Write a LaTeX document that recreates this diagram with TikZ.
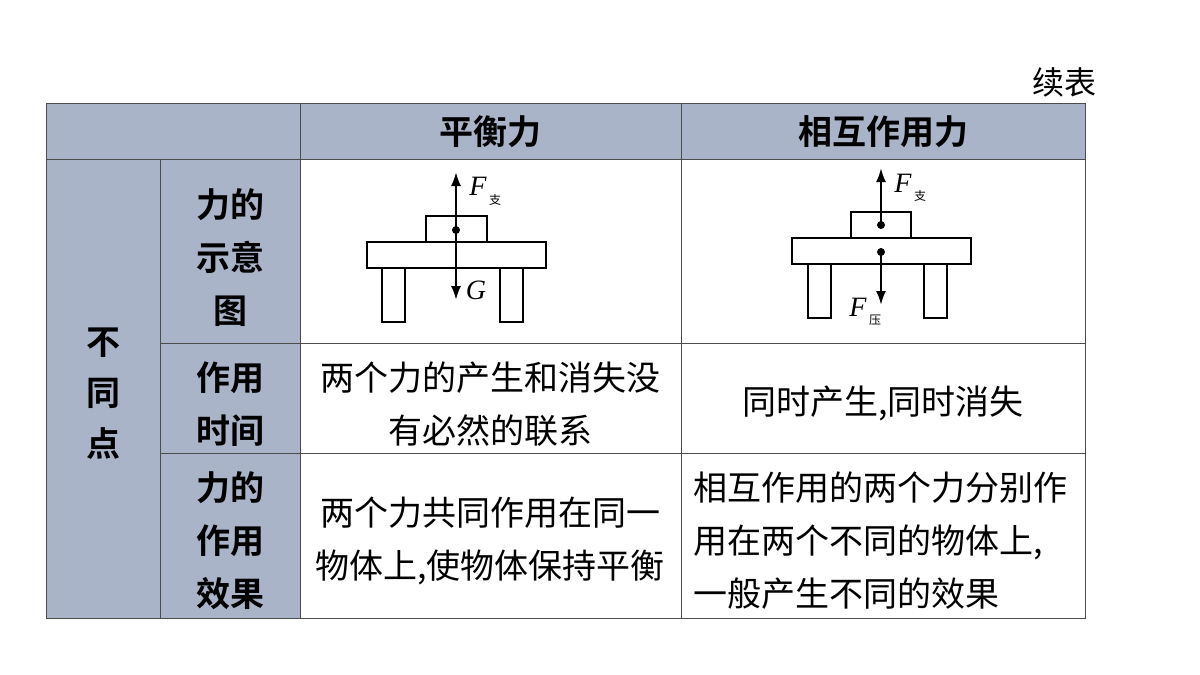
\documentclass[tikz,border=0pt]{standalone}
\usepackage{fontspec}
\newfontfamily\cjk{Noto Sans CJK SC}
\newfontfamily\cjkb{Noto Sans CJK SC Bold}
\setmainfont{Liberation Serif}
\definecolor{hdr}{RGB}{170,180,200}
\usetikzlibrary{arrows.meta}
\begin{document}
\begin{tikzpicture}[x=1pt,y=-1pt,
  ln/.style={draw=black!70,line width=1pt},
  bd/.style={font=\cjkb\fontsize{34}{53}\selectfont,align=center},
  tx/.style={font=\cjk\fontsize{34}{53}\selectfont,align=center},
  fig/.style={draw,line width=2.2pt,fill=white},
  fa/.style={line width=2.2pt,-{Latex[length=14pt,width=10pt]}},
  lab/.style={font=\itshape\fontsize{28}{28}\selectfont,inner sep=0},
  sub/.style={font=\cjk\fontsize{12}{12}\selectfont,inner sep=0}]
\useasboundingbox (0,0) rectangle (1200,675);
\fill[hdr] (46,103) rectangle (1085,159);
\fill[hdr] (46,159) rectangle (300,618);
\draw[ln] (46,103) rectangle (1085,618);
\draw[ln] (46,159) -- (1085,159);
\draw[ln] (160,343) -- (1085,343);
\draw[ln] (160,453) -- (1085,453);
\draw[ln] (160,159) -- (160,618);
\draw[ln] (300,103) -- (300,618);
\draw[ln] (681,103) -- (681,618);
\node[font=\cjk\fontsize{32}{32}\selectfont] (xb) at (1064,82) {续表};
\node[bd] (h1) at (490,132) {平衡力};
\node[bd] (h2) at (883,132) {相互作用力};
\node[bd,font=\cjkb\fontsize{34}{51}\selectfont] (bt) at (103,394) {不\\同\\点};
\node[bd] (r1) at (230,258) {力的\\示意\\图};
\node[bd] (r2) at (230,404) {作用\\时间};
\node[bd] (r3) at (230,541) {力的\\作用\\效果};
\node[tx] (c21) at (490,404) {两个力的产生和消失没\\有必然的联系};
\node[tx] (c22) at (883,403) {同时产生,同时消失};
\node[tx] (c31) at (490,541) {两个力共同作用在同一\\物体上,使物体保持平衡};
\node[tx,align=left] (c32) at (880,541) {相互作用的两个力分别作\\用在两个不同的物体上,\\一般产生不同的效果};
% diagram 1
\draw[fig] (382,268) rectangle (405,322);
\draw[fig] (500,268) rectangle (523,322);
\draw[fig] (367,242) rectangle (546,268);
\draw[fig] (426,216) rectangle (487,242);
\coordinate (p1) at (456,230);
\coordinate (u1) at (456,172);
\coordinate (d1) at (456,300);
\draw[fa] (p1) -- (u1);
\draw[fa] (p1) -- (d1);
\fill (p1) circle (4);
\node[lab] (f1) at (478,186) {F};
\node[sub] (s1) at (495,200) {支};
\node[lab] (g1) at (476,290) {G};
% diagram 2
\draw[fig] (808,264) rectangle (831,318);
\draw[fig] (924,264) rectangle (947,318);
\draw[fig] (792,238) rectangle (971,264);
\draw[fig] (851,212) rectangle (911,238);
\coordinate (p2) at (881,225);
\coordinate (q2) at (881,252);
\coordinate (u2) at (881,168);
\coordinate (d2) at (881,305);
\draw[fa] (p2) -- (u2);
\draw[fa] (q2) -- (d2);
\fill (p2) circle (4);
\fill (q2) circle (4);
\node[lab] (f2) at (903,183) {F};
\node[sub] (s2) at (920,196) {支};
\node[lab] (f3) at (858,307) {F};
\node[sub] (s3) at (875,320) {压};
\end{tikzpicture}
\end{document}
